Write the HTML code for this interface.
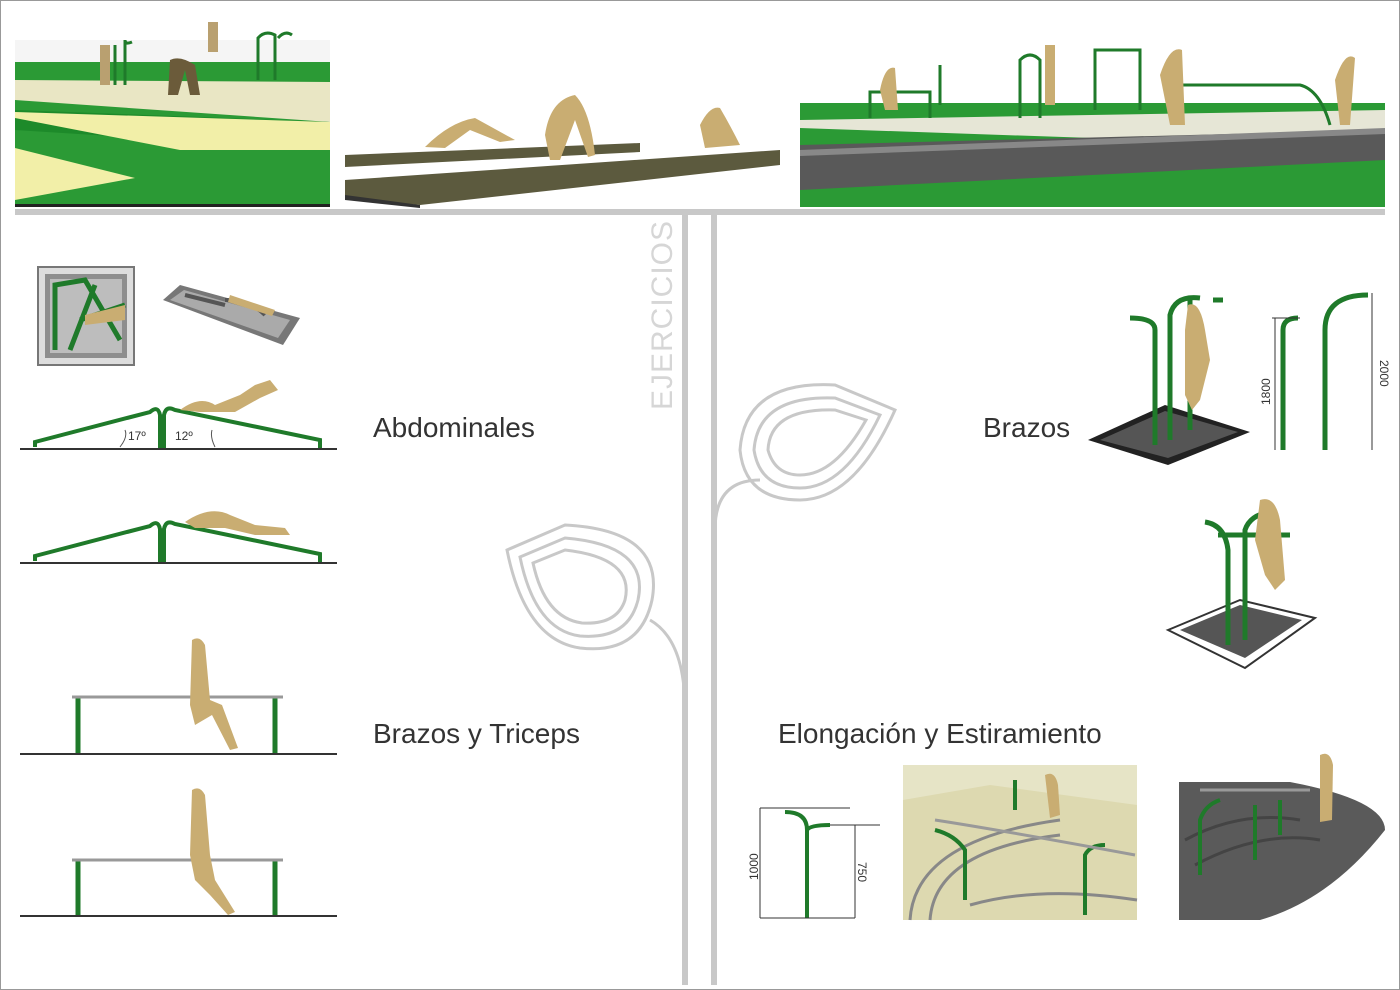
<!DOCTYPE html>
<html><head><meta charset="utf-8"><style>
html,body{margin:0;padding:0;background:#fff;}
svg{display:block}
text{font-family:"Liberation Sans",sans-serif;}
</style></head><body>
<svg width="1400" height="990" viewBox="0 0 1400 990" xmlns="http://www.w3.org/2000/svg">
<rect x="0" y="0" width="1400" height="990" fill="#fff"/>
<rect x="0.5" y="0.5" width="1399" height="989" fill="none" stroke="#999"/>

<!-- top left image -->
<rect x="15" y="40" width="315" height="167" fill="#f5f5f5"/>
<rect x="15" y="62" width="315" height="145" fill="#2b9a35"/>
<polygon points="15,80 330,82 330,122 15,100" fill="#e9e6c4"/>
<polygon points="15,110 330,122 330,150 15,130" fill="#1d8a2a"/>
<polygon points="15,112 330,122 330,150 180,150 15,118" fill="#f2efa8"/>
<polygon points="15,148 135,178 15,200" fill="#f2efa8"/>
<rect x="15" y="204" width="315" height="3" fill="#222"/>
<g stroke="#1f7a2a" stroke-width="3" fill="none">
<path d="M115,85 V45 M125,85 V40 Q125,45 132,42"/>
<path d="M258,80 V38 Q265,30 275,35 V80 M278,38 Q285,30 292,35"/>
</g>
<path d="M170,60 Q180,55 195,65 L200,95 L190,95 L185,70 L178,95 L168,95 Z" fill="#6b5b3a"/>
<path d="M100,45 h10 v40 h-10 Z M208,22 h10 v30 h-10z" fill="#b9a070"/>

<!-- top middle image -->
<polygon points="345,155 640,143 640,152 345,167" fill="#5c5a3e"/>
<polygon points="345,180 780,150 780,165 420,205 345,198" fill="#5c5a3e"/>
<polygon points="345,195 420,205 420,208 345,200" fill="#333"/>
<path d="M425,147 Q450,122 475,118 L515,140 L500,142 L470,130 L445,148 Z" fill="#c9ad72"/>
<path d="M545,135 Q550,100 575,95 Q590,110 595,155 L588,157 L575,120 L560,160 L550,160 Z" fill="#c9ad72"/>
<path d="M700,125 Q710,105 720,108 Q730,125 740,145 L705,148 Z" fill="#c9ad72"/>

<!-- top right image -->
<rect x="800" y="40" width="585" height="167" fill="#fff"/>
<rect x="800" y="103" width="585" height="104" fill="#2b9a35"/>
<polygon points="800,120 1385,110 1385,132 1150,140 800,128" fill="#e6e6d6"/>
<polygon points="800,145 1385,130 1385,160 800,190" fill="#595959"/>
<polygon points="800,150 1385,128 1385,134 800,156" fill="#888"/>
<g stroke="#1f7a2a" stroke-width="3" fill="none">
<path d="M870,118 V92 H930 V118 M940,105 V65 M1020,118 V60 Q1030,50 1040,60 V118 M1095,110 V50 H1140 V110 M1180,125 V85 H1300 Q1320,90 1330,125"/>
</g>
<path d="M880,90 Q885,65 895,68 L898,110 L885,110 Z M1160,75 Q1170,45 1182,50 L1185,125 L1170,125 Z M1335,80 Q1345,50 1355,58 L1350,125 L1340,125Z M1045,45 l10,0 l0,60 l-10,0z" fill="#c9ad72"/>

<!-- divider bar -->
<rect x="15" y="209" width="1370" height="6" fill="#c8c8c8"/>
<rect x="682" y="215" width="6" height="770" fill="#c8c8c8"/>
<rect x="711" y="215" width="6" height="770" fill="#c8c8c8"/>

<text transform="translate(672,410) rotate(-90)" font-size="30" fill="#d6d6d6" letter-spacing="1">EJERCICIOS</text>

<!-- leaves -->
<g fill="none" stroke="#c8c8c8" stroke-width="3">
<path d="M685,710 Q685,640 650,620"/>
<path d="M507,550 L565,525 Q665,530 652,600 Q640,655 580,648 Q525,640 507,550 Z"/>
<path d="M520,557 L565,538 Q650,545 638,600 Q628,640 580,636 Q535,630 520,557 Z"/>
<path d="M533,563 L565,550 Q635,558 625,600 Q617,625 582,623 Q545,618 533,563 Z"/>
<path d="M715,530 Q715,480 760,480"/>
<path d="M895,410 L835,385 Q745,380 740,450 Q745,500 800,500 Q855,500 895,410 Z"/>
<path d="M880,415 L835,398 Q758,395 754,450 Q760,488 800,488 Q845,488 880,415 Z"/>
<path d="M866,420 L835,410 Q770,408 768,450 Q775,475 800,475 Q835,475 866,420 Z"/>
</g>

<!-- labels -->
<g font-size="28" fill="#333">
<text x="373" y="437">Abdominales</text>
<text x="373" y="743">Brazos y Triceps</text>
<text x="983" y="437">Brazos</text>
<text x="778" y="743">Elongación y Estiramiento</text>
</g>

<!-- abdominales thumbs -->
<rect x="38" y="267" width="96" height="98" fill="#ddd" stroke="#777" stroke-width="2"/>
<rect x="45" y="274" width="82" height="84" fill="#8e8e8e"/>
<rect x="50" y="279" width="72" height="74" fill="#bdbdbd"/>
<path d="M55,350 L55,285 L85,280 L120,340 M70,350 L95,285 M80,320 L125,305" stroke="#1f7a2a" stroke-width="5" fill="none"/>
<path d="M85,315 L125,305 L125,320 L85,325Z" fill="#c9ad72"/>
<polygon points="163,300 180,285 300,318 283,345" fill="#777"/>
<polygon points="170,300 184,290 290,320 278,338" fill="#aaa"/>
<path d="M185,295 L225,305 M225,300 Q250,300 265,315" stroke="#555" stroke-width="4" fill="none"/>
<path d="M230,295 L275,310 L272,316 L228,302Z" fill="#c9ad72"/>

<!-- abdominales side views -->
<g stroke="#333" stroke-width="2"><line x1="20" y1="449" x2="337" y2="449"/><line x1="20" y1="563" x2="337" y2="563"/><line x1="20" y1="754" x2="337" y2="754"/><line x1="20" y1="916" x2="337" y2="916"/></g>
<g stroke="#1f7a2a" stroke-width="4" fill="none">
<path d="M35,447 V442 L150,412 Q158,405 160,415 V448 M164,448 V415 Q166,405 175,410 L320,440 V448"/>
<path d="M35,561 V556 L150,526 Q158,519 160,529 V562 M164,562 V529 Q166,519 175,524 L320,554 V562"/>
</g>
<g stroke="#555" stroke-width="1" fill="none"><path d="M120,447 Q128,437 125,430 M215,447 Q210,437 212,430"/></g>
<text x="128" y="440" font-size="12" fill="#333">17º</text><text x="175" y="440" font-size="12" fill="#333">12º</text>
<path d="M180,410 Q200,395 215,405 L240,395 L255,385 L270,380 L278,390 L260,398 L235,412 L200,412 Z" fill="#c9ad72"/>
<path d="M185,522 Q210,505 230,515 L255,525 L285,528 L290,535 L255,535 L225,528 L195,528Z" fill="#c9ad72"/>

<!-- brazos y triceps -->
<g stroke="#1f7a2a" stroke-width="5"><line x1="78" y1="697" x2="78" y2="753"/><line x1="275" y1="697" x2="275" y2="753"/><line x1="78" y1="860" x2="78" y2="915"/><line x1="275" y1="860" x2="275" y2="915"/></g>
<g stroke="#999" stroke-width="3"><line x1="72" y1="697" x2="283" y2="697"/><line x1="72" y1="860" x2="283" y2="860"/></g>
<path d="M192,640 Q200,635 205,645 L210,700 L222,705 L238,748 L230,750 L212,715 L195,725 L190,705 Z" fill="#c9ad72"/>
<path d="M192,790 Q200,785 205,795 L210,855 L215,880 L235,912 L228,915 L210,895 L195,880 L190,855 Z" fill="#c9ad72"/>

<!-- brazos equipment -->
<polygon points="1088,440 1165,405 1250,432 1168,465" fill="#222"/>
<polygon points="1100,440 1165,411 1238,432 1168,458" fill="#555"/>
<g stroke="#1f7a2a" stroke-width="5" fill="none">
<path d="M1155,445 V330 Q1155,318 1130,318 M1170,440 V315 Q1175,295 1200,298 M1190,430 V300 M1213,300 h10"/>
<path d="M1325,450 V330 Q1325,295 1368,295 M1283,450 V330 Q1283,318 1298,318"/>
</g>
<path d="M1188,305 Q1200,300 1205,330 L1210,360 L1200,400 L1192,410 L1185,395 L1185,330 Z" fill="#c9ad72"/>
<g stroke="#333" stroke-width="1"><line x1="1275" y1="318" x2="1275" y2="450"/><line x1="1272" y1="318" x2="1300" y2="318"/><line x1="1372" y1="293" x2="1372" y2="450"/></g>
<text transform="translate(1270,405) rotate(-90)" font-size="12" fill="#333">1800</text>
<text transform="translate(1380,360) rotate(90)" font-size="12" fill="#333">2000</text>

<polygon points="1168,630 1240,600 1315,618 1245,668" fill="#fff" stroke="#333" stroke-width="2"/>
<polygon points="1180,630 1240,605 1302,620 1245,658" fill="#555"/>
<g stroke="#1f7a2a" stroke-width="5" fill="none">
<path d="M1228,645 V550 Q1225,525 1205,522 M1245,640 V530 Q1250,515 1270,512 M1218,535 H1290"/>
</g>
<path d="M1260,500 Q1275,495 1280,520 L1285,580 L1275,590 L1265,575 L1255,540 Z" fill="#c9ad72"/>

<!-- elongacion dims -->
<g stroke="#1f7a2a" stroke-width="4" fill="none"><path d="M807,918 V830 Q807,812 785,812 M807,830 Q810,825 830,825"/></g>
<g stroke="#333" stroke-width="1"><line x1="760" y1="808" x2="760" y2="918"/><line x1="760" y1="808" x2="850" y2="808"/><line x1="855" y1="825" x2="855" y2="918"/><line x1="830" y1="825" x2="880" y2="825"/><line x1="760" y1="918" x2="855" y2="918"/></g>
<text transform="translate(758,880) rotate(-90)" font-size="12" fill="#333">1000</text>
<text transform="translate(858,862) rotate(90)" font-size="12" fill="#333">750</text>

<rect x="903" y="765" width="234" height="155" fill="#e6e4c6"/>
<polygon points="903,800 990,785 1137,805 1137,920 903,920" fill="#ddd9b0"/>
<path d="M910,920 Q915,840 1060,820 M930,920 Q935,850 1060,835 M970,905 Q1040,885 1137,900" stroke="#888" stroke-width="3" fill="none"/>
<g stroke="#1f7a2a" stroke-width="4" fill="none"><path d="M965,900 V850 Q955,835 935,830 M1085,915 V855 Q1090,845 1105,845 M1015,810 V780"/></g>
<path d="M935,820 Q1000,830 1135,855" stroke="#999" stroke-width="3" fill="none"/>
<path d="M1045,775 Q1055,770 1058,785 L1060,815 L1050,818 Z" fill="#c9ad72"/>

<rect x="1179" y="780" width="206" height="140" fill="#fff"/>
<path d="M1179,782 H1290 Q1385,800 1385,830 Q1330,900 1260,920 H1179 Z" fill="#5a5a5a"/>
<path d="M1185,840 Q1240,810 1300,820 M1195,865 Q1260,830 1320,840" stroke="#444" stroke-width="3" fill="none"/>
<g stroke="#1f7a2a" stroke-width="4" fill="none"><path d="M1200,875 V820 Q1205,805 1220,800 M1255,860 V805 M1280,835 V800"/></g>
<path d="M1200,790 H1310" stroke="#999" stroke-width="3"/>
<path d="M1320,755 Q1330,750 1333,765 L1332,820 L1320,822 Z" fill="#c9ad72"/>
</svg>
</body></html>
